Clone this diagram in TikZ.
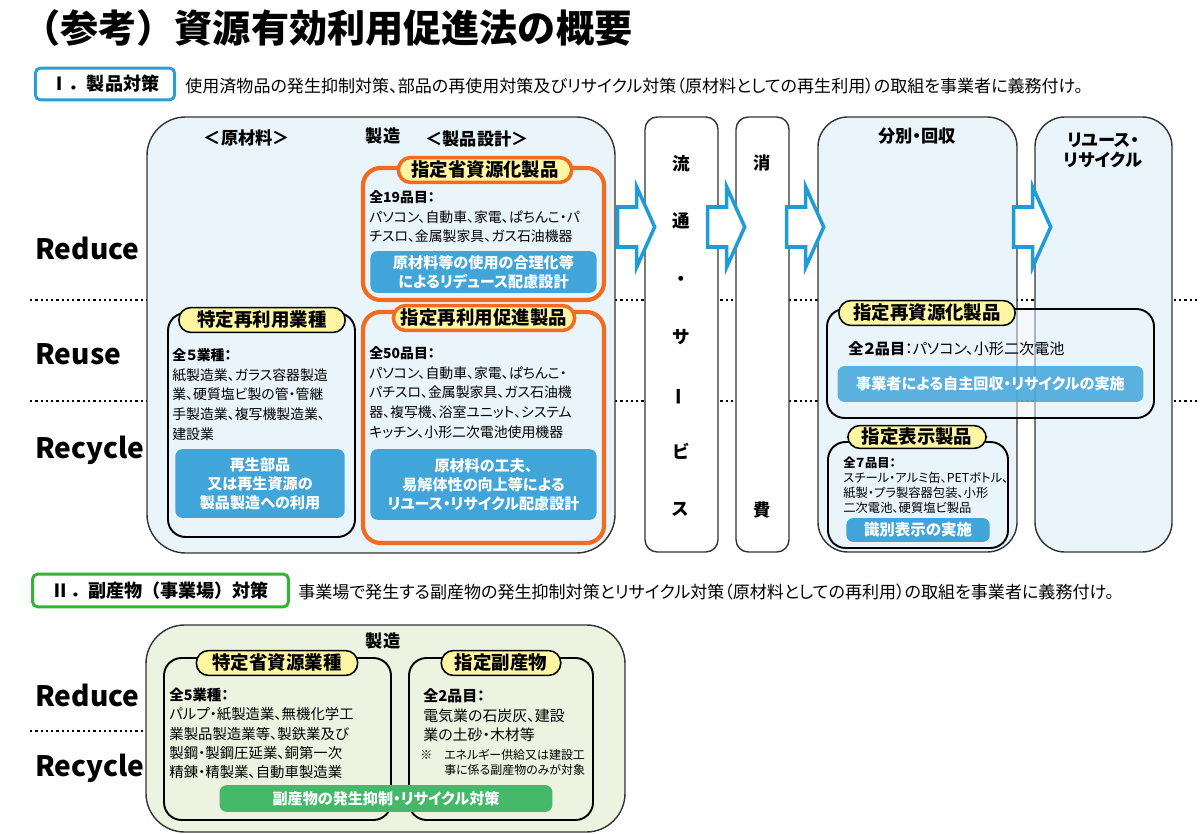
\documentclass[tikz,border=0pt]{standalone}
\usepackage{fontspec}
\setmainfont{Noto Sans CJK JP}[RawFeature={+palt}]
\newfontfamily\fullwidthjp{Noto Sans CJK JP}
\usepackage{graphicx}
\usetikzlibrary{calc,positioning,fit}

\definecolor{paleblue}{HTML}{E9F4FB}
\definecolor{barblue}{HTML}{41A5D9}
\definecolor{arrowblue}{HTML}{1F9BD7}
\definecolor{headblue}{HTML}{2A9FD6}
\definecolor{pensorange}{HTML}{F26B21}
\definecolor{pillyellow}{HTML}{FFF6A3}
\definecolor{palegreen}{HTML}{ECF4E1}
\definecolor{bargreen}{HTML}{46B86A}
\definecolor{headgreen}{HTML}{36B336}

\newcommand{\pxu}{0.5669pt}
\newcommand{\flowarrow}[1]{\draw[flowarrow] (#1) ++(0,-20) -- ++(19,0) -- ++(0,-20) -- ++(18,40) -- ++(-18,40) -- ++(0,-20) -- ++(-19,0) -- cycle;}

\tikzset{
  stagebox/.style={draw=black!80, line width=0.8pt, fill=paleblue, rounded corners=17pt, inner sep=0pt},
  flowbox/.style={draw=black!80, line width=0.8pt, fill=white, rounded corners=7pt, inner sep=0pt},
  groupbox/.style={draw=black, line width=1.1pt, rounded corners=10pt, inner sep=0pt},
  orangebox/.style={draw=pensorange, line width=2.4pt, rounded corners=10pt, inner sep=0pt},
  pill/.style={draw=black, line width=0.9pt, fill=pillyellow, rounded corners=7pt,
    font=\bfseries\fontsize{10.5}{12}\selectfont, inner sep=0pt, minimum height=25*\pxu, minimum width=#1},
  orangepill/.style={pill=#1, draw=pensorange, line width=2pt},
  bar/.style={fill=barblue, rounded corners=4pt, text=white, font=\bfseries\fontsize{8.6}{10.8}\selectfont,
    align=center, inner sep=0pt},
  body/.style={font=\fontsize{7.9}{11.3}\selectfont, align=left, inner sep=0pt, anchor=north west},
  desc/.style={font=\fontsize{9.7}{11}\selectfont, inner sep=0pt, anchor=west},
  secbox/.style={draw=#1, line width=1.7pt, fill=white, rounded corners=3pt,
    font=\fullwidthjp\bfseries\fontsize{10.3}{12}\selectfont, inner sep=0pt},
  colhead/.style={font=\bfseries\fontsize{9.8}{11.3}\selectfont, inner sep=0pt, align=center},
  rowlabel/.style={font=\bfseries\fontsize{16}{16}\selectfont, inner sep=0pt, anchor=west},
  rowline/.style={line width=1.3pt, dash pattern=on 1.3pt off 1.7pt},
  flowarrow/.style={draw=arrowblue, line width=2pt, fill=white, line join=miter}
}

\begin{document}
\begin{tikzpicture}[x=0.02cm,y=-0.02cm]
\useasboundingbox[fill=white] (0,0) rectangle (1200,834);

\node[anchor=west, inner sep=0pt, font=\fullwidthjp\bfseries\fontsize{21.7}{24}\selectfont] (title) at (22,28) {（参考）資源有効利用促進法の概要};

\node[secbox=headblue, minimum width=140*\pxu, minimum height=32*\pxu] (sec1) at (105,84) {Ⅰ．製品対策};
\node[desc] (desc1) at (185,86) {使用済物品の発生抑制対策、部品の再使用対策及びリサイクル対策（原材料としての再生利用）の取組を事業者に義務付け。};

\draw[rowline] (30,300) -- (1200,300);
\draw[rowline] (30,401) -- (1200,401);
\draw[rowline] (30,731) -- (146,731);

\node[rowlabel] (reduce1) at (35,248) {Reduce};
\node[rowlabel] (reuse1) at (35,354) {Reuse};
\node[rowlabel] (recycle1) at (35,450) {Recycle};

\node[stagebox, rounded corners=22pt, fit={(147,117) (615,553)}] (mfg) {};
\node[flowbox, fit={(645,117) (718,552)}] (dist) {};
\node[flowbox, fit={(736,117) (789,552)}] (cons) {};
\node[stagebox, fit={(818,117) (1017,552)}] (sort) {};
\node[stagebox, fit={(1035,117) (1172,552)}] (reuse) {};

\coordinate (flow) at (0,227);
\flowarrow{$(mfg.east |- flow)+(2,0)$}
\flowarrow{$(dist.east |- flow)+(-11,0)$}
\flowarrow{$(cons.east |- flow)+(-3,0)$}
\flowarrow{$(sort.east |- flow)+(-4,0)$}

\node[colhead] (rawlbl) at (247,138) {＜原材料＞};
\node[colhead] (mfglbl) at (383,136) {製造};
\node[colhead] (designlbl) at (477,139) {＜製品設計＞};
\node[colhead, font=\bfseries\fontsize{10}{32.8}\selectfont] (disttxt) at (681,336) {流\\通\\・\\サ\\\rotatebox[origin=c]{90}{ー}\\ビ\\ス};
\node[colhead] (cons1) at (762,163) {消};
\node[colhead] (cons2) at (762,510) {費};
\node[colhead] (sortlbl) at (917,136) {分別・回収};
\node[colhead] (reuselbl) at (1103,150) {リユース・\\リサイクル};

\node[orangebox, fit={(363,168) (604,300)}] (saving) {};
\node[orangepill=174*\pxu] (savingtag) at (485,170) {指定省資源化製品};
\node[body] (savingtxt) at (369,190) {\textbf{全19品目：}\\パソコン、自動車、家電、ぱちんこ・パ\\チスロ、金属製家具、ガス石油機器};
\node[bar, minimum width=227*\pxu, minimum height=42*\pxu] (savingbar) at (483.5,272) {原材料等の使用の合理化等\\によるリデュース配慮設計};

\node[orangebox, fit={(363,312) (604,543)}] (promo) {};
\node[orangepill=182*\pxu] (promotag) at (484,318) {指定再利用促進製品};
\node[body] (promotxt) at (369,346) {\textbf{全50品目：}\\パソコン、自動車、家電、ぱちんこ・\\パチスロ、金属製家具、ガス石油機\\器、複写機、浴室ユニット、システム\\キッチン、小形二次電池使用機器};
\node[bar, minimum width=227*\pxu, minimum height=71*\pxu] (promobar) at (483.5,484.5) {原材料の工夫、\\易解体性の向上等による\\リユース・リサイクル配慮設計};

\node[groupbox, fit={(168,313) (355,537)}] (reuseind) {};
\node[pill=167*\pxu] (reuseindtag) at (262,320) {特定再利用業種};
\node[body] (reuseindtxt) at (172,348) {\textbf{全５業種：}\\紙製造業、ガラス容器製造\\業、硬質塩ビ製の管・管継\\手製造業、複写機製造業、\\建設業};
\node[bar, minimum width=170*\pxu, minimum height=69*\pxu] (reuseindbar) at (260,483.5) {再生部品\\又は再生資源の\\製品製造への利用};

\node[groupbox, fill=paleblue, fill opacity=0.5, fit={(827,309) (1154,418)}] (recyc) {};
\node[pill=177*\pxu] (recyctag) at (927,313) {指定再資源化製品};
\node[body, anchor=west, font=\fontsize{8.6}{11}\selectfont] (recyctxt) at (848,349) {\textbf{全２品目}：パソコン、小形二次電池};
\node[bar, fill opacity=0.85, text opacity=1, minimum width=307*\pxu, minimum height=36*\pxu] (recycbar) at (990.5,384) {事業者による自主回収・リサイクルの実施};

\node[groupbox, fill=paleblue, fill opacity=0.5, fit={(828,442) (1008,548)}] (marking) {};
\node[pill=139*\pxu, minimum height=23*\pxu] (markingtag) at (917,437) {指定表示製品};
\node[body, font=\fontsize{7}{8.5}\selectfont] (markingtxt) at (843,457) {\textbf{全７品目：}\\スチール・アルミ缶、PETボトル、\\紙製・プラ製容器包装、小形\\二次電池、硬質塩ビ製品};
\node[bar, minimum width=144*\pxu, minimum height=24*\pxu, font=\bfseries\fontsize{8.8}{10}\selectfont] (markingbar) at (918,530) {識別表示の実施};

\node[secbox=headgreen, minimum width=257*\pxu, minimum height=33*\pxu] (sec2) at (160.5,590.5) {Ⅱ．副産物（事業場）対策};
\node[desc] (desc2) at (298,592) {事業場で発生する副産物の発生抑制対策とリサイクル対策（原材料としての再利用）の取組を事業者に義務付け。};

\node[rowlabel] (reduce2) at (35,695) {Reduce};
\node[rowlabel] (recycle2) at (35,768) {Recycle};

\node[stagebox, fill=palegreen, rounded corners=22pt, fit={(146,625) (625,832)}] (plant) {};
\node[colhead] (plantlbl) at (383,641) {製造};
\node[groupbox, fill=palegreen, fit={(164,658) (391,820)}] (industry) {};
\node[pill=162*\pxu] (industrytag) at (277,663) {特定省資源業種};
\node[body, font=\fontsize{8.2}{10.9}\selectfont] (industrytxt) at (169,688) {\textbf{全5業種：}\\パルプ・紙製造業、無機化学工\\業製品製造業等、製鉄業及び\\製鋼・製鋼圧延業、銅第一次\\精錬・精製業、自動車製造業};
\node[groupbox, fill=palegreen, fit={(409,658) (593,820)}] (byproduct) {};
\node[pill=120*\pxu] (byproducttag) at (501,663) {指定副産物};
\node[body, font=\fontsize{8.5}{11.3}\selectfont] (byproducttxt) at (423,688) {\textbf{全2品目：}\\電気業の石炭灰、建設\\業の土砂・木材等};
\node[body, font=\fontsize{6.8}{8.5}\selectfont] (byproductnote) at (420,749) {※　エネルギー供給又は建設工\\\phantom{※　}事に係る副産物のみが対象};
\node[bar, fill=bargreen, minimum width=334*\pxu, minimum height=27*\pxu] (plantbar) at (386,798.5) {副産物の発生抑制・リサイクル対策};
\end{tikzpicture}
\end{document}
